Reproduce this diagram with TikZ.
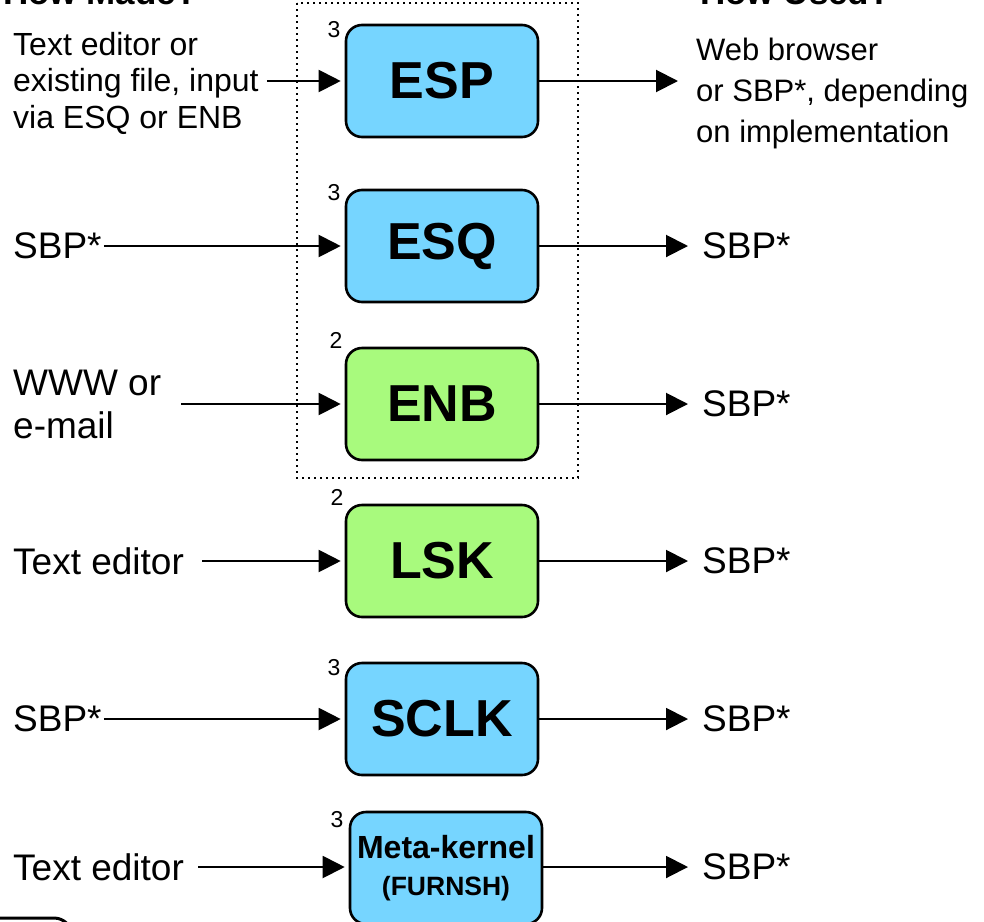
\documentclass[tikz,border=0pt]{standalone}
\usepackage{fontspec}
\setmainfont{Liberation Sans}
\usetikzlibrary{arrows.meta}
\definecolor{kblue}{RGB}{118,213,255}
\definecolor{kgreen}{RGB}{168,250,125}
\tikzset{
  kbox/.style={draw=black, line width=2.6pt, rounded corners=16pt, minimum width=192pt, minimum height=112pt, inner sep=0pt, align=center, font=\bfseries\fontsize{52}{56}\selectfont},
  lbl/.style={inner sep=0pt, align=left, font=\fontsize{37}{43}\selectfont},
  num/.style={inner sep=0pt, font=\fontsize{23}{24}\selectfont},
  arr/.style={line width=2pt, -{Triangle[length=22pt, width=22pt]}},
  grp/.style={line width=2pt, dash pattern=on 2pt off 4pt},
  head/.style={inner sep=0pt, anchor=base west, font=\bfseries\fontsize{35}{40}\selectfont}
}
\begin{document}
\begin{tikzpicture}[x=1pt,y=-1pt]
\clip (0,0) rectangle (984,921);
% headings (cut off at the top)
\node[head] (hm) at (3,4) {How Made?};
\node[head] (hu) at (700,4) {How Used?};
% group
\draw[grp] (297,3) rectangle (578,478);
% boxes
\node[kbox, fill=kblue] (esp) at (442,81) {ESP};
\node[kbox, fill=kblue] (esq) at (442,246) {ESQ};
\node[kbox, fill=kgreen] (enb) at (442,404) {ENB};
\node[kbox, fill=kgreen] (lsk) at (442,561) {LSK};
\node[kbox, fill=kblue] (sclk) at (442,719) {SCLK};
\node[kbox, fill=kblue, font=\bfseries\fontsize{32}{37}\selectfont] (mk) at (446,868) {Meta-kernel\\{\fontsize{26.5}{37}\selectfont (FURNSH)}};
% numbers
\node[num] (n1) at (334,30) {3};
\node[num] (n2) at (334,193) {3};
\node[num] (n3) at (336,340) {2};
\node[num] (n4) at (337,497) {2};
\node[num] (n5) at (334,668) {3};
\node[num] (n6) at (337,820) {3};
% left labels
\node[lbl, anchor=west, font=\fontsize{32}{36.5}\selectfont] (i1) at (13,83) {Text editor or\\existing file, input\\via ESQ or ENB};
\node[lbl, anchor=west] (i2) at (13,246) {SBP*};
\node[lbl, anchor=west] (i3) at (13,404) {WWW or\\e-mail};
\node[lbl, anchor=west] (i4) at (13,561) {Text editor};
\node[lbl, anchor=west] (i5) at (13,719) {SBP*};
\node[lbl, anchor=west] (i6) at (13,867) {Text editor};
% right labels
\node[lbl, anchor=west, font=\fontsize{31}{41}\selectfont] (o1) at (696,93) {Web browser\\or SBP*, depending\\on implementation};
\node[lbl, anchor=west] (o2) at (702,246) {SBP*};
\node[lbl, anchor=west] (o3) at (702,404) {SBP*};
\node[lbl, anchor=west] (o4) at (702,561) {SBP*};
\node[lbl, anchor=west] (o5) at (702,719) {SBP*};
\node[lbl, anchor=west] (o6) at (702,867) {SBP*};
% input arrows
\draw[arr, shorten <=8pt, shorten >=4pt] (i1.east |- esp.west) -- (esp.west);
\draw[arr, shorten <=2pt, shorten >=4pt] (i2.east) -- (esq.west);
\draw[arr, shorten <=20pt, shorten >=4pt] (i3.east |- enb.west) -- (enb.west);
\draw[arr, shorten <=18pt, shorten >=4pt] (i4.east) -- (lsk.west);
\draw[arr, shorten <=2pt, shorten >=4pt] (i5.east) -- (sclk.west);
\draw[arr, shorten <=14pt, shorten >=4pt] (i6.east) -- (i6.east -| mk.west);
% output arrows
\draw[arr, shorten >=18pt] (esp.east) -- (o1.west |- esp.east);
\draw[arr, shorten >=14pt] (esq.east) -- (o2.west);
\draw[arr, shorten >=14pt] (enb.east) -- (o3.west);
\draw[arr, shorten >=14pt] (lsk.east) -- (o4.west);
\draw[arr, shorten >=14pt] (sclk.east) -- (o5.west);
\draw[arr, shorten >=14pt] (o6.west -| mk.east) -- (o6.west);
% cut-off box at bottom left
\draw[line width=3pt, rounded corners=18pt] (-40,918) rectangle (72,1010);
\end{tikzpicture}
\end{document}
